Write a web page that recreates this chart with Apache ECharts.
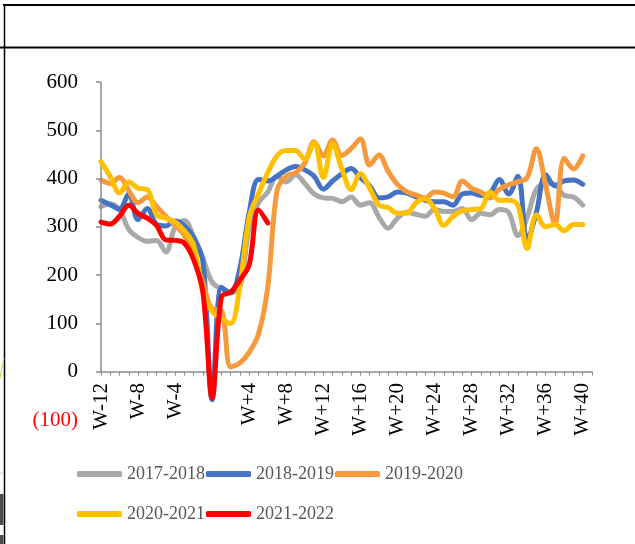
<!DOCTYPE html>
<html>
<head>
<meta charset="utf-8">
<script src="https://cdn.jsdelivr.net/npm/echarts@6/dist/echarts.min.js"></script>
<style>
html,body{margin:0;padding:0;background:#fff;}
#chart{width:635px;height:544px;}
</style>
</head>
<body>
<div id="chart"></div>
<script>
const weeks = ['W-12','W-11','W-10','W-9','W-8','W-7','W-6','W-5','W-4','W-3','W-2','W-1','W0',
  'W+1','W+2','W+3','W+4','W+5','W+6','W+7','W+8','W+9','W+10','W+11','W+12','W+13','W+14','W+15',
  'W+16','W+17','W+18','W+19','W+20','W+21','W+22','W+23','W+24','W+25','W+26','W+27','W+28','W+29',
  'W+30','W+31','W+32','W+33','W+34','W+35','W+36','W+37','W+38','W+39','W+40','W+41'];

const seriesNames = ['2017-2018','2018-2019','2019-2020','2020-2021','2021-2022'];

const s2017 = [342,348,335,295,278,270,272,248,300,313,280,235,185,172,165,175,300,350,372,405,393,408,390,368,
  360,359,352,362,345,350,320,297,318,330,326,322,336,332,332,338,315,328,325,336,330,282,320,378,390,388,365,362,345];
const s2018 = [355,346,337,368,315,338,305,302,312,302,278,228,-58,175,163,215,330,398,395,405,418,425,418,405,
  378,395,410,421,402,385,360,362,372,370,362,355,352,352,345,368,370,365,370,398,368,405,272,330,408,385,395,397,388];
const s2019 = [397,390,402,375,350,362,342,322,303,282,240,185,130,127,10,18,40,78,175,375,405,412,432,476,
  447,480,448,462,482,428,449,415,388,373,366,360,372,370,362,395,380,372,360,378,387,393,402,462,385,306,442,420,447];
const s2020 = [435,404,370,393,380,377,325,318,310,292,262,165,125,110,100,180,320,368,412,447,458,458,440,474,
  402,472,420,377,410,380,345,340,328,328,350,358,338,303,322,333,336,338,372,355,355,345,255,325,300,305,292,305,305];
const s2021 = [310,306,322,345,328,318,303,273,272,266,232,165,-54,155,165,190,222,335,308];

const colors = ['#A9A9A9','#4472C4','#F79A3B','#FFC000','#FF0000'];

const chart = echarts.init(document.getElementById('chart'), null, {renderer:'canvas'});
const font = 'Liberation Serif';
const dataSets = [s2017, s2018, s2019, s2020, s2021];

const series = dataSets.map((d, k) => ({
  name: seriesNames[k],
  type: 'line',
  data: d,
  smooth: 0.35,
  showSymbol: false,
  symbol: 'none',
  z: 2 + k,
  lineStyle: {color: colors[k], width: 5, cap: 'round', join: 'round'},
  itemStyle: {color: colors[k]},
  animation: false
}));
series[0].markLine = {
  silent: true,
  symbol: ['none','none'],
  label: {show: false},
  lineStyle: {color: '#8c8c8c', width: 1.5, type: 'solid'},
  data: [[{coord: [weeks[0], 0]}, {coord: [weeks[0], 600]}]],
  animation: false
};

const legendCommon = {
  left: 77,
  padding: 0,
  itemWidth: 45,
  itemHeight: 6,
  itemGap: 1,
  icon: 'roundRect',
  textStyle: {fontFamily: font, fontSize: 18, color: '#595959'},
  selectedMode: false
};

chart.setOption({
  animation: false,
  backgroundColor: '#ffffff',
  grid: {left: 101, right: 43, top: 82, bottom: 124, containLabel: false},
  xAxis: {
    type: 'category',
    data: weeks,
    boundaryGap: false,
    axisLine: {onZero: true, lineStyle: {color: '#8c8c8c', width: 1.5}},
    axisTick: {show: true, interval: 0, length: 4, lineStyle: {color: '#8c8c8c', width: 1}},
    axisLabel: {
      rotate: 90,
      margin: -37,
      interval: function (i, v) { return i % 4 === 0 && v !== 'W0'; },
      fontFamily: font, fontSize: 21, color: '#000'
    },
    splitLine: {show: false}
  },
  yAxis: {
    type: 'value',
    min: -100, max: 600, interval: 100,
    axisLine: {show: false},
    axisTick: {show: true, inside: false, length: 5, customValues: [0,100,200,300,400,500,600],
      lineStyle: {color: '#8c8c8c', width: 1.5}},
    axisLabel: {
      margin: 23,
      fontFamily: font, fontSize: 21, color: '#000',
      formatter: function (v) { return v < 0 ? '{neg|(' + Math.abs(v) + ')}' : String(v); },
      rich: {neg: {color: '#FF0000', fontFamily: font, fontSize: 21}}
    },
    splitLine: {show: false}
  },
  legend: [
    Object.assign({top: 465, data: seriesNames.slice(0, 3)}, legendCommon),
    Object.assign({top: 505, data: seriesNames.slice(3)}, legendCommon)
  ],
  graphic: [
    {type: 'line', shape: {x1: 3, y1: 5, x2: 635, y2: 5}, style: {stroke: '#000', lineWidth: 2}},
    {type: 'line', shape: {x1: 0, y1: 47.5, x2: 635, y2: 47.5}, style: {stroke: '#000', lineWidth: 2}},
    {type: 'line', shape: {x1: 4.5, y1: 4, x2: 4.5, y2: 544}, style: {stroke: '#000', lineWidth: 1.5}},
    {type: 'rect', shape: {x: 0, y: 494, width: 3.5, height: 31}, style: {fill: '#4a4a4a'}},
    {type: 'rect', shape: {x: 0, y: 535, width: 3.5, height: 9}, style: {fill: '#4a4a4a'}},
    {type: 'line', shape: {x1: 0, y1: 473, x2: 3.5, y2: 473}, style: {stroke: '#c8c8c8', lineWidth: 1}},
    {type: 'line', shape: {x1: 0, y1: 378, x2: 4, y2: 358}, style: {stroke: '#c8d040', lineWidth: 1}}
  ],
  series: series
});
</script>
</body>
</html>
